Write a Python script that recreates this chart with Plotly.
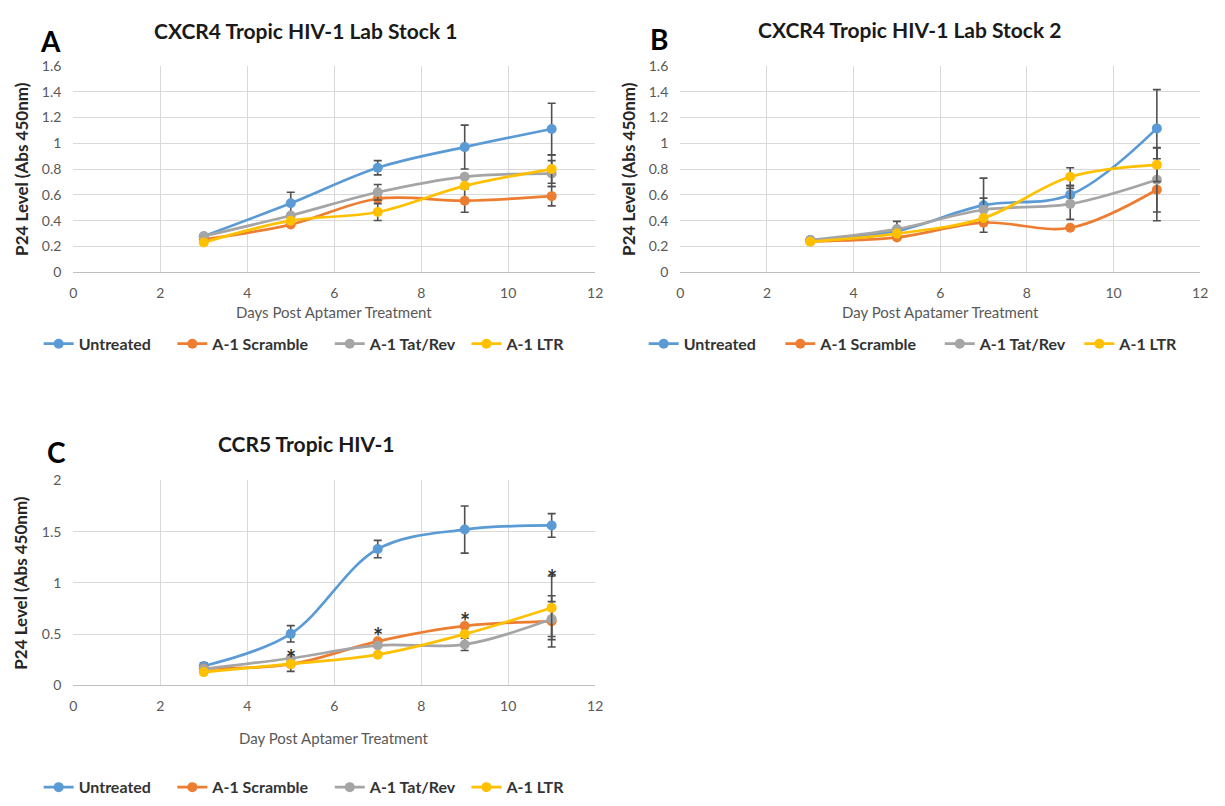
import plotly.graph_objects as go

W, H = 1225, 806

# ---------------- data ----------------
days = [3, 5, 7, 9, 11]
series_names = ["Untreated", "A-1 Scramble", "A-1 Tat/Rev", "A-1 LTR"]
series_colors = ["#5B9BD5", "#ED7D31", "#A5A5A5", "#FFC000"]

# Panel A: CXCR4 Tropic HIV-1 Lab Stock 1
a_untreated = [0.28, 0.535, 0.81, 0.97, 1.11]
a_scramble = [0.255, 0.37, 0.57, 0.555, 0.59]
a_tatrev = [0.28, 0.44, 0.62, 0.74, 0.765]
a_ltr = [0.232, 0.40, 0.467, 0.67, 0.80]
a_untreated_err = [None, 0.085, 0.055, 0.17, 0.20]
a_scramble_err = [None, None, None, 0.09, 0.075]
a_tatrev_err = [None, None, 0.06, None, 0.10]
a_ltr_err = [None, None, 0.065, None, 0.11]

# Panel B: CXCR4 Tropic HIV-1 Lab Stock 2
b_untreated = [0.25, 0.32, 0.52, 0.60, 1.115]
b_scramble = [0.24, 0.27, 0.385, 0.345, 0.64]
b_tatrev = [0.25, 0.335, 0.485, 0.53, 0.717]
b_ltr = [0.237, 0.30, 0.42, 0.74, 0.833]
b_untreated_err = [None, None, 0.21, 0.075, 0.30]
b_scramble_err = [None, None, None, None, 0.24]
b_tatrev_err = [None, 0.06, 0.09, 0.12, 0.25]
b_ltr_err = [None, None, None, 0.07, 0.13]

# Panel C: CCR5 Tropic HIV-1
c_untreated = [0.19, 0.503, 1.33, 1.52, 1.56]
c_scramble = [0.165, 0.207, 0.43, 0.58, 0.625]
c_tatrev = [0.16, 0.265, 0.39, 0.40, 0.647]
c_ltr = [0.13, 0.21, 0.30, 0.50, 0.757]
c_untreated_err = [0.03, 0.08, 0.085, 0.23, 0.115]
c_scramble_err = [None, 0.07, None, None, 0.25]
c_tatrev_err = [None, None, None, 0.06, 0.17]
c_ltr_err = [None, None, None, None, 0.31]

star_days = [5, 7, 9, 11]
star_levels = [0.31, 0.525, 0.67, 1.09]

panel_titles = ["CXCR4 Tropic HIV-1 Lab Stock 1", "CXCR4 Tropic HIV-1 Lab Stock 2", "CCR5 Tropic HIV-1"]
panel_letters = ["A", "B", "C"]
x_titles = ["Days Post Aptamer Treatment", "Day Post Apatamer Treatment", "Day Post Aptamer Treatment"]
y_title = "P24 Level (Abs 450nm)"

panels = [
    ([a_untreated, a_scramble, a_tatrev, a_ltr], [a_untreated_err, a_scramble_err, a_tatrev_err, a_ltr_err]),
    ([b_untreated, b_scramble, b_tatrev, b_ltr], [b_untreated_err, b_scramble_err, b_tatrev_err, b_ltr_err]),
    ([c_untreated, c_scramble, c_tatrev, c_ltr], [c_untreated_err, c_scramble_err, c_tatrev_err, c_ltr_err]),
]

# ---------------- layout geometry (pixels) ----------------
def fx(p):
    return p / W

def fy(p):
    return 1 - p / H

plot_boxes = [  # left, right, top, bottom
    (70, 597, 58, 269),
    (683, 1208, 58, 269),
    (70, 597, 481.5, 691),
]
y_ranges = [[0, 1.6], [0, 1.6], [0, 2]]
y_dticks = [0.2, 0.2, 0.5]
legend_text_x = [[80, 215, 374, 512], [691, 829, 990, 1131], [80, 215, 374, 512]]
legend_y = [342, 342, 795]
title_pos = [(305, 22), (915, 21), (305, 444)]
letter_pos = [(47, 33), (661, 31), (53, 453)]
xtitle_y = [310, 310, 745]
ytitle_x = [17, 630, 17]

FONT = "Lato, 'Open Sans', sans-serif"
GRID = "#D9D9D9"
TICKC = "#595959"
ERRC = "#505050"

fig = go.Figure()
layout = dict(
    width=W, height=H,
    margin=dict(l=0, r=0, t=0, b=0),
    paper_bgcolor="white", plot_bgcolor="white",
    font=dict(family=FONT, color=TICKC),
    showlegend=True,
    annotations=[],
)

leg_idx = 0
for pi, (vals, errs) in enumerate(panels):
    sfx = "" if pi == 0 else str(pi + 1)
    xa, ya = "x" + sfx, "y" + sfx
    for si in range(4):
        leg_idx += 1
        lname = "legend" if leg_idx == 1 else "legend%d" % leg_idx
        fig.add_trace(go.Scatter(
            x=days, y=vals[si], name=series_names[si],
            mode="lines+markers",
            line=dict(color=series_colors[si], width=2.7, shape="spline", smoothing=1.0),
            marker=dict(color=series_colors[si], size=10),
            error_y=dict(type="data", array=errs[si], visible=True,
                         color=ERRC, thickness=1.6, width=4),
            xaxis=xa, yaxis=ya, legend=lname, showlegend=True,
        ))
        tx = legend_text_x[pi][si]
        layout[lname] = dict(
            x=fx(tx - 40 - 5), xanchor="left", y=fy(legend_y[pi]), yanchor="middle",
            orientation="h", bgcolor="rgba(0,0,0,0)", borderwidth=0,
            font=dict(family=FONT, size=16, color="#333333", weight="bold"),
            itemwidth=30,
        )
    l, r, t, b = plot_boxes[pi]
    layout["xaxis" + sfx] = dict(
        domain=[fx(l), fx(r)], range=[0, 12], dtick=2, anchor=ya,
        showgrid=True, gridcolor=GRID, gridwidth=1,
        showline=True, linecolor="#BFBFBF", linewidth=1,
        zeroline=False, ticks="", ticklabelstandoff=8,
        tickfont=dict(family=FONT, size=14, color=TICKC),
        fixedrange=True,
    )
    layout["yaxis" + sfx] = dict(
        domain=[fy(b), fy(t)], range=y_ranges[pi], dtick=y_dticks[pi], anchor=xa,
        showgrid=True, gridcolor=GRID, gridwidth=1,
        showline=False, zeroline=False, ticks="", ticklabelstandoff=11,
        tickfont=dict(family=FONT, size=14, color=TICKC),
        fixedrange=True,
    )
    # panel title, letter, axis titles
    layout["annotations"].append(dict(
        text=panel_titles[pi], x=fx(title_pos[pi][0]), y=fy(title_pos[pi][1]),
        xref="paper", yref="paper", xanchor="center", yanchor="middle", showarrow=False,
        font=dict(family=FONT, size=21, color="#1a1a1a", weight="bold"),
    ))
    layout["annotations"].append(dict(
        text=panel_letters[pi], x=fx(letter_pos[pi][0]), y=fy(letter_pos[pi][1]),
        xref="paper", yref="paper", xanchor="center", yanchor="middle", showarrow=False,
        font=dict(family=FONT, size=28, color="#000000", weight="bold"),
    ))
    layout["annotations"].append(dict(
        text=x_titles[pi], x=fx((l + r) / 2), y=fy(xtitle_y[pi]),
        xref="paper", yref="paper", xanchor="center", yanchor="middle", showarrow=False,
        font=dict(family=FONT, size=15, color=TICKC),
    ))
    layout["annotations"].append(dict(
        text=y_title, x=fx(ytitle_x[pi]), y=fy((t + b) / 2), textangle=-90,
        xref="paper", yref="paper", xanchor="center", yanchor="middle", showarrow=False,
        font=dict(family=FONT, size=17, color="#262626", weight="bold"),
    ))

for sx, sy in zip(star_days, star_levels):
    layout["annotations"].append(dict(
        text="*", x=sx, y=sy, xref="x3", yref="y3", showarrow=False,
        xanchor="center", yanchor="middle", yshift=-5,
        font=dict(family=FONT, size=24, color="#333333", weight="bold"),
    ))

fig.update_layout(**layout)
fig.write_html(
    "out.html",
    post_script="document.body.style.margin='0';document.body.style.padding='0';document.body.style.overflow='hidden';",
)
